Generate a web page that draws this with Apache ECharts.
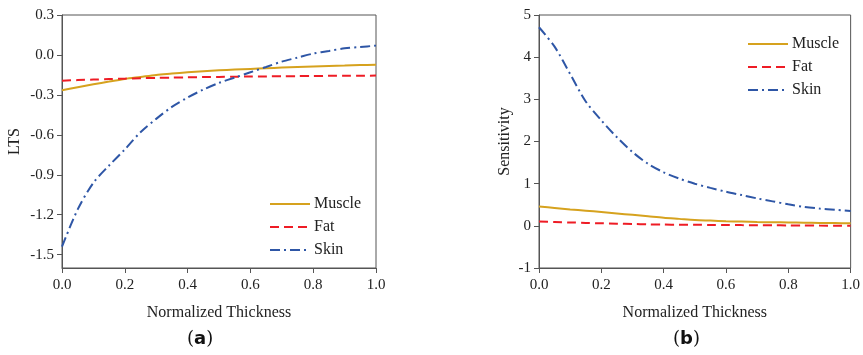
<!DOCTYPE html>
<html>
<head>
<meta charset="utf-8">
<script src="https://cdn.jsdelivr.net/npm/echarts@6/dist/echarts.min.js"></script>
<style>
  html, body { margin: 0; padding: 0; background: #fff; }
  #chart { width: 863px; height: 355px; }
</style>
</head>
<body>
<div id="chart"></div>
<script>
// Normalized thickness samples
const thickness = [0, 0.05, 0.1, 0.15, 0.2, 0.25, 0.3, 0.35, 0.4, 0.45, 0.5,
                   0.55, 0.6, 0.65, 0.7, 0.75, 0.8, 0.85, 0.9, 0.95, 1.0];

// Panel (a): LTS
const ltsMuscle = [-0.265, -0.242, -0.22, -0.2, -0.18, -0.165, -0.15, -0.14, -0.13, -0.122, -0.115,
                   -0.11, -0.105, -0.1, -0.095, -0.091, -0.087, -0.083, -0.08, -0.076, -0.073];
const ltsFat    = [-0.193, -0.189, -0.185, -0.181, -0.178, -0.175, -0.172, -0.17, -0.168, -0.166, -0.165,
                   -0.164, -0.162, -0.161, -0.16, -0.159, -0.158, -0.157, -0.156, -0.156, -0.155];
const ltsSkin   = [-1.44, -1.16, -0.96, -0.83, -0.71, -0.58, -0.48, -0.39, -0.32, -0.26, -0.21,
                   -0.17, -0.13, -0.09, -0.05, -0.02, 0.01, 0.03, 0.05, 0.06, 0.07];

// Panel (b): Sensitivity
const sensMuscle = [0.46, 0.425, 0.39, 0.36, 0.33, 0.295, 0.26, 0.225, 0.19, 0.165, 0.14,
                    0.125, 0.11, 0.1, 0.09, 0.085, 0.08, 0.075, 0.07, 0.065, 0.06];
const sensFat    = [0.10, 0.09, 0.08, 0.07, 0.06, 0.05, 0.045, 0.035, 0.03, 0.027, 0.025,
                    0.022, 0.02, 0.017, 0.015, 0.012, 0.01, 0.008, 0.005, 0.003, 0.0];
const sensSkin   = [4.71, 4.25, 3.6, 2.95, 2.5, 2.1, 1.75, 1.47, 1.27, 1.12, 1.0,
                    0.9, 0.81, 0.73, 0.65, 0.58, 0.51, 0.45, 0.41, 0.38, 0.35];

// Axis ticks
const xTicks = [0, 0.2, 0.4, 0.6, 0.8, 1.0];
const ltsTicks = [-1.5, -1.2, -0.9, -0.6, -0.3, 0.0, 0.3];
const sensTicks = [-1, 0, 1, 2, 3, 4, 5];

const seriesNames = ['Muscle', 'Fat', 'Skin'];
const colors = { Muscle: '#D6A21E', Fat: '#EE1C25', Skin: '#2E56A6' };
const dashes = { Muscle: 'solid', Fat: [9, 5], Skin: [10, 4, 2, 4] };

const FONT = 'Liberation Serif';
const axisColor = '#555';

function pairs(ys) { return thickness.map((x, i) => [x, ys[i]]); }

function lineSeries(name, ys, idx) {
  return {
    name: name,
    type: 'line',
    xAxisIndex: idx,
    yAxisIndex: idx,
    data: pairs(ys),
    symbol: 'none',
    smooth: 0.3,
    color: colors[name],
    lineStyle: { width: 2, type: dashes[name], color: colors[name] }
  };
}

function xAxis(gridIndex) {
  return {
    type: 'value', gridIndex: gridIndex, min: 0, max: 1, interval: 0.2,
    name: 'Normalized Thickness', nameLocation: 'middle', nameGap: 37,
    nameTextStyle: { fontFamily: FONT, fontSize: 16, color: '#222' },
    axisLine: { show: true, onZero: false, lineStyle: { color: axisColor, width: 1 } },
    axisTick: { show: true, inside: false, length: 5, customValues: xTicks,
                lineStyle: { color: axisColor } },
    axisLabel: { fontFamily: FONT, fontSize: 15, color: '#222', margin: 10,
                 customValues: xTicks, formatter: v => v.toFixed(1) },
    splitLine: { show: false }
  };
}

function yAxis(gridIndex, name, min, max, ticks, digits, gap) {
  return {
    type: 'value', gridIndex: gridIndex, min: min, max: max,
    name: name, nameLocation: 'middle', nameGap: gap, nameRotate: 90,
    nameTextStyle: { fontFamily: FONT, fontSize: 16, color: '#222' },
    axisLine: { show: true, onZero: false, lineStyle: { color: axisColor, width: 1 } },
    axisTick: { show: true, inside: false, length: 5, customValues: ticks,
                lineStyle: { color: axisColor } },
    axisLabel: { fontFamily: FONT, fontSize: 15, color: '#222', margin: 8,
                 customValues: ticks, formatter: v => v.toFixed(digits) },
    splitLine: { show: false }
  };
}

function legend(id, left, top) {
  return {
    id: id, data: seriesNames, left: left, top: top, orient: 'vertical',
    itemWidth: 40, itemHeight: 14, itemGap: 7,
    itemStyle: { opacity: 0 },
    textStyle: { fontFamily: FONT, fontSize: 16, color: '#222', padding: [0, 0, 0, -1] },
    padding: 0
  };
}

const chart = echarts.init(document.getElementById('chart'), null, { renderer: 'canvas' });

const option = {
  animation: false,
  backgroundColor: '#fff',
  grid: [
    { left: 62, top: 15, width: 314, height: 253, show: true, borderColor: axisColor, borderWidth: 1 },
    { left: 539, top: 15, width: 314, height: 253, show: true, borderColor: axisColor, borderWidth: 1 }
  ],
  xAxis: [xAxis(0), xAxis(1)],
  yAxis: [
    yAxis(0, 'LTS', -1.6, 0.3, ltsTicks, 1, 39),
    yAxis(1, 'Sensitivity', -1, 5, sensTicks, 0, 26)
  ],
  legend: [legend('la', 269, 196), legend('lb', 747, 36)],
  series: [
    lineSeries('Muscle', ltsMuscle, 0),
    lineSeries('Fat', ltsFat, 0),
    lineSeries('Skin', ltsSkin, 0),
    lineSeries('Muscle', sensMuscle, 1),
    lineSeries('Fat', sensFat, 1),
    lineSeries('Skin', sensSkin, 1)
  ],
  graphic: [
    {
      type: 'text', left: 187, top: 330,
      style: {
        text: '({b|a})',
        font: '18px "DejaVu Serif"', fill: '#111',
        rich: { b: { fontWeight: 'bold', fontSize: 18, fontFamily: 'DejaVu Sans', fill: '#111' } }
      }
    },
    {
      type: 'text', left: 673, top: 330,
      style: {
        text: '({b|b})',
        font: '18px "DejaVu Serif"', fill: '#111',
        rich: { b: { fontWeight: 'bold', fontSize: 18, fontFamily: 'DejaVu Sans', fill: '#111' } }
      }
    }
  ]
};

chart.setOption(option);
</script>
</body>
</html>
